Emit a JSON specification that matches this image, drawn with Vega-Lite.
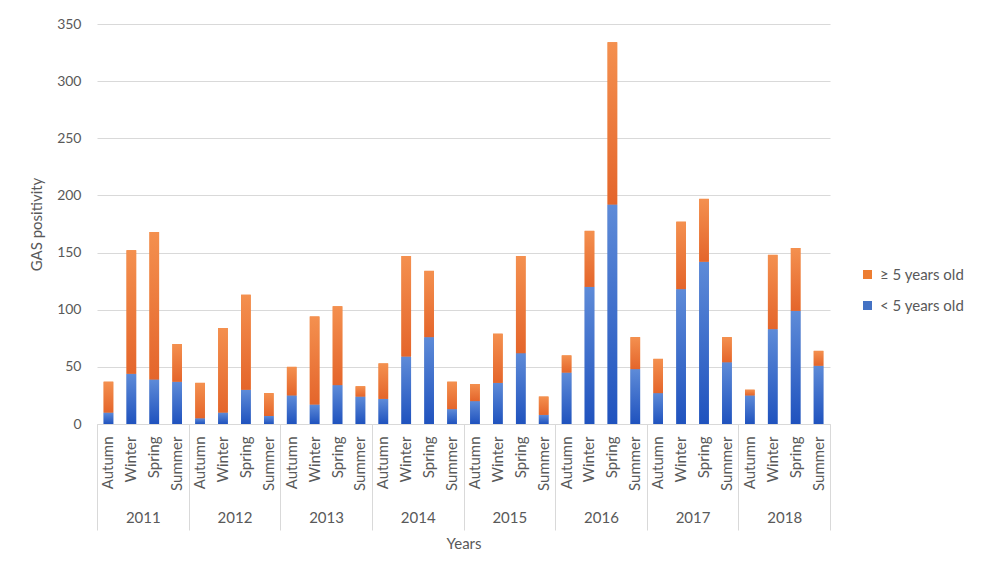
{
  "$schema": "https://vega.github.io/schema/vega-lite/v6.json",
  "autosize": {"type": "none"},
  "padding": {"left": 97, "top": 24, "right": 156, "bottom": 159},
  "width": 733,
  "height": 400,
  "background": "white",
  "config": {
    "font": "Lato",
    "view": {"stroke": null},
    "axis": {"labelColor": "#595959", "titleColor": "#595959", "labelFont": "Lato", "titleFont": "Lato", "titleFontWeight": "normal"},
    "legend": {"labelFont": "Lato", "labelColor": "#595959"}
  },
  "data": {
    "values": [
      {"key": "2011 Autumn", "year": "2011", "group": "< 5 years old", "count": 10},
      {"key": "2011 Autumn", "year": "2011", "group": "≥ 5 years old", "count": 27},
      {"key": "2011 Winter", "year": "2011", "group": "< 5 years old", "count": 44},
      {"key": "2011 Winter", "year": "2011", "group": "≥ 5 years old", "count": 108},
      {"key": "2011 Spring", "year": "2011", "group": "< 5 years old", "count": 39},
      {"key": "2011 Spring", "year": "2011", "group": "≥ 5 years old", "count": 129},
      {"key": "2011 Summer", "year": "2011", "group": "< 5 years old", "count": 37},
      {"key": "2011 Summer", "year": "2011", "group": "≥ 5 years old", "count": 33},
      {"key": "2012 Autumn", "year": "2012", "group": "< 5 years old", "count": 5},
      {"key": "2012 Autumn", "year": "2012", "group": "≥ 5 years old", "count": 31},
      {"key": "2012 Winter", "year": "2012", "group": "< 5 years old", "count": 10},
      {"key": "2012 Winter", "year": "2012", "group": "≥ 5 years old", "count": 74},
      {"key": "2012 Spring", "year": "2012", "group": "< 5 years old", "count": 30},
      {"key": "2012 Spring", "year": "2012", "group": "≥ 5 years old", "count": 83},
      {"key": "2012 Summer", "year": "2012", "group": "< 5 years old", "count": 7},
      {"key": "2012 Summer", "year": "2012", "group": "≥ 5 years old", "count": 20},
      {"key": "2013 Autumn", "year": "2013", "group": "< 5 years old", "count": 25},
      {"key": "2013 Autumn", "year": "2013", "group": "≥ 5 years old", "count": 25},
      {"key": "2013 Winter", "year": "2013", "group": "< 5 years old", "count": 17},
      {"key": "2013 Winter", "year": "2013", "group": "≥ 5 years old", "count": 77},
      {"key": "2013 Spring", "year": "2013", "group": "< 5 years old", "count": 34},
      {"key": "2013 Spring", "year": "2013", "group": "≥ 5 years old", "count": 69},
      {"key": "2013 Summer", "year": "2013", "group": "< 5 years old", "count": 24},
      {"key": "2013 Summer", "year": "2013", "group": "≥ 5 years old", "count": 9},
      {"key": "2014 Autumn", "year": "2014", "group": "< 5 years old", "count": 22},
      {"key": "2014 Autumn", "year": "2014", "group": "≥ 5 years old", "count": 31},
      {"key": "2014 Winter", "year": "2014", "group": "< 5 years old", "count": 59},
      {"key": "2014 Winter", "year": "2014", "group": "≥ 5 years old", "count": 88},
      {"key": "2014 Spring", "year": "2014", "group": "< 5 years old", "count": 76},
      {"key": "2014 Spring", "year": "2014", "group": "≥ 5 years old", "count": 58},
      {"key": "2014 Summer", "year": "2014", "group": "< 5 years old", "count": 13},
      {"key": "2014 Summer", "year": "2014", "group": "≥ 5 years old", "count": 24},
      {"key": "2015 Autumn", "year": "2015", "group": "< 5 years old", "count": 20},
      {"key": "2015 Autumn", "year": "2015", "group": "≥ 5 years old", "count": 15},
      {"key": "2015 Winter", "year": "2015", "group": "< 5 years old", "count": 36},
      {"key": "2015 Winter", "year": "2015", "group": "≥ 5 years old", "count": 43},
      {"key": "2015 Spring", "year": "2015", "group": "< 5 years old", "count": 62},
      {"key": "2015 Spring", "year": "2015", "group": "≥ 5 years old", "count": 85},
      {"key": "2015 Summer", "year": "2015", "group": "< 5 years old", "count": 8},
      {"key": "2015 Summer", "year": "2015", "group": "≥ 5 years old", "count": 16},
      {"key": "2016 Autumn", "year": "2016", "group": "< 5 years old", "count": 45},
      {"key": "2016 Autumn", "year": "2016", "group": "≥ 5 years old", "count": 15},
      {"key": "2016 Winter", "year": "2016", "group": "< 5 years old", "count": 120},
      {"key": "2016 Winter", "year": "2016", "group": "≥ 5 years old", "count": 49},
      {"key": "2016 Spring", "year": "2016", "group": "< 5 years old", "count": 192},
      {"key": "2016 Spring", "year": "2016", "group": "≥ 5 years old", "count": 142},
      {"key": "2016 Summer", "year": "2016", "group": "< 5 years old", "count": 48},
      {"key": "2016 Summer", "year": "2016", "group": "≥ 5 years old", "count": 28},
      {"key": "2017 Autumn", "year": "2017", "group": "< 5 years old", "count": 27},
      {"key": "2017 Autumn", "year": "2017", "group": "≥ 5 years old", "count": 30},
      {"key": "2017 Winter", "year": "2017", "group": "< 5 years old", "count": 118},
      {"key": "2017 Winter", "year": "2017", "group": "≥ 5 years old", "count": 59},
      {"key": "2017 Spring", "year": "2017", "group": "< 5 years old", "count": 142},
      {"key": "2017 Spring", "year": "2017", "group": "≥ 5 years old", "count": 55},
      {"key": "2017 Summer", "year": "2017", "group": "< 5 years old", "count": 54},
      {"key": "2017 Summer", "year": "2017", "group": "≥ 5 years old", "count": 22},
      {"key": "2018 Autumn", "year": "2018", "group": "< 5 years old", "count": 25},
      {"key": "2018 Autumn", "year": "2018", "group": "≥ 5 years old", "count": 5},
      {"key": "2018 Winter", "year": "2018", "group": "< 5 years old", "count": 83},
      {"key": "2018 Winter", "year": "2018", "group": "≥ 5 years old", "count": 65},
      {"key": "2018 Spring", "year": "2018", "group": "< 5 years old", "count": 99},
      {"key": "2018 Spring", "year": "2018", "group": "≥ 5 years old", "count": 55},
      {"key": "2018 Summer", "year": "2018", "group": "< 5 years old", "count": 51},
      {"key": "2018 Summer", "year": "2018", "group": "≥ 5 years old", "count": 13}
    ]
  },
  "transform": [
    {"stack": "count", "groupby": ["key"], "sort": [{"field": "group", "order": "ascending"}], "as": ["y0", "y1"]}
  ],
  "layer": [
    {
      "layer": [
        {
          "mark": {"type": "bar"},
          "encoding": {
            "x": {
              "field": "key", "type": "nominal", "sort": null,
              "scale": {"paddingInner": 0.58, "paddingOuter": 0.29},
              "axis": {"title": null, "labelExpr": "split(datum.value, ' ')[1]", "labelAngle": -90, "labelFontSize": 15, "labelPadding": 12, "ticks": false, "domainColor": "#d9d9d9", "grid": false}
            },
            "y": {
              "field": "y1", "type": "quantitative",
              "scale": {"domain": [0, 350], "nice": false},
              "axis": {"values": [0, 50, 100, 150, 200, 250, 300, 350], "title": "GAS positivity", "titleFontSize": 15, "labelFontSize": 14, "labelPadding": 16, "ticks": false, "domain": false, "gridColor": "#d9d9d9", "titlePadding": 12}
            },
            "y2": {"field": "y0"},
            "color": {
              "field": "group", "type": "nominal",
              "scale": {"domain": ["≥ 5 years old", "< 5 years old"], "range": ["#ED7D31", "#4472C4"]},
              "legend": {"title": null, "orient": "none", "legendX": 763, "legendY": 243, "symbolType": "square", "symbolSize": 81, "symbolStrokeWidth": 0, "labelFontSize": 15, "rowPadding": 15, "padding": 0, "labelOffset": 5}
            }
          }
        },
        {
          "transform": [{"filter": "datum.group == '< 5 years old'"}],
          "mark": {"type": "bar", "color": {"gradient": "linear", "x1": 0, "y1": 0, "x2": 0, "y2": 1, "stops": [{"offset": 0, "color": "#5E8BD8"}, {"offset": 1, "color": "#1F52BE"}]}},
          "encoding": {
            "x": {"field": "key", "type": "nominal", "sort": null},
            "y": {"field": "y1", "type": "quantitative"},
            "y2": {"field": "y0"}
          }
        },
        {
          "transform": [{"filter": "datum.group == '≥ 5 years old'"}],
          "mark": {"type": "bar", "color": {"gradient": "linear", "x1": 0, "y1": 0, "x2": 0, "y2": 1, "stops": [{"offset": 0, "color": "#F4904F"}, {"offset": 1, "color": "#E4652B"}]}},
          "encoding": {
            "x": {"field": "key", "type": "nominal", "sort": null},
            "y": {"field": "y1", "type": "quantitative"},
            "y2": {"field": "y0"}
          }
        }
      ]
    },
    {
      "mark": {"type": "point", "opacity": 0},
      "encoding": {
        "x": {
          "field": "year", "type": "nominal", "sort": null,
          "scale": {"type": "band", "paddingInner": 0, "paddingOuter": 0},
          "axis": {"orient": "bottom", "title": "Years", "tickBand": "extent", "tickSize": 106, "tickColor": "#d9d9d9", "domain": false, "labelPadding": -20, "labelFontSize": 15, "labelAngle": 0, "grid": false, "titlePadding": 6, "titleFontSize": 15}
        }
      }
    }
  ],
  "resolve": {"scale": {"x": "independent"}}
}
